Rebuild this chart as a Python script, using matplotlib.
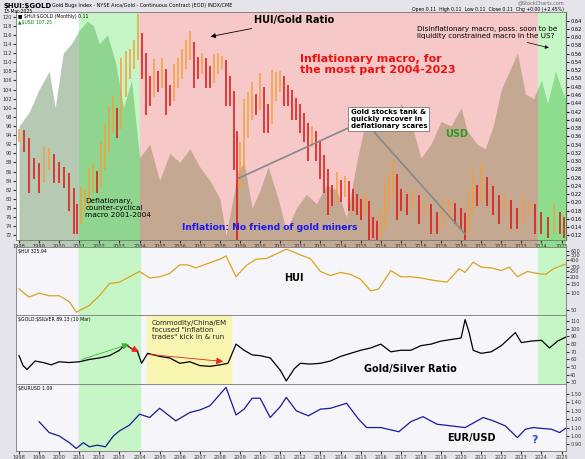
import matplotlib
matplotlib.use("Agg")
import matplotlib.pyplot as plt
from matplotlib.patches import Rectangle
import numpy as np

# ---- data ----
ratio_t = [1998.0,1998.25,1998.5,1998.75,1999.0,1999.25,1999.5,1999.75,2000.0,2000.25,2000.5,2000.75,2000.9,
           2001.1,2001.3,2001.5,2001.7,2001.9,2002.1,2002.3,2002.5,2002.7,2002.9,2003.1,2003.3,2003.5,2003.7,2003.9,
           2004.1,2004.3,2004.5,2004.7,2004.9,2005.1,2005.3,2005.5,2005.7,2005.9,2006.1,2006.3,2006.5,2006.7,2006.9,
           2007.1,2007.3,2007.5,2007.7,2007.9,2008.1,2008.3,2008.5,2008.7,2008.85,2009.0,2009.2,2009.4,2009.6,2009.8,
           2010.0,2010.2,2010.4,2010.6,2010.8,2011.0,2011.2,2011.4,2011.6,2011.8,2012.0,2012.2,2012.4,2012.6,2012.8,
           2013.0,2013.2,2013.4,2013.6,2013.8,2014.0,2014.2,2014.4,2014.6,2014.8,2015.0,2015.2,2015.4,2015.6,2015.8,
           2016.0,2016.2,2016.4,2016.6,2016.8,2017.0,2017.3,2017.6,2017.9,2018.2,2018.5,2018.8,2019.1,2019.4,2019.7,
           2020.0,2020.2,2020.4,2020.6,2020.8,2021.0,2021.3,2021.6,2021.9,2022.2,2022.5,2022.8,2023.1,2023.4,2023.7,
           2024.0,2024.3,2024.6,2024.9,2025.1]
ratio_v = [94,93,88,87,85,88,89,87,86,85,82,78,76,
           79,80,83,85,84,88,92,96,99,97,104,108,110,112,116,
           112,106,104,107,106,108,104,103,106,108,110,112,114,110,109,
           110,108,107,109,110,110,106,104,96,84,88,95,99,102,101,
           104,100,98,103,105,106,104,103,101,100,98,96,93,94,92,
           89,86,82,81,83,82,83,81,80,79,78,79,75,74,73,
           75,79,82,85,81,80,79,80,78,78,76,75,77,78,77,
           76,74,78,82,81,84,82,80,78,79,77,76,78,78,76,
           75,74,76,75,74]
usd_t = [1998.0,1998.5,1999.0,1999.5,1999.8,2000.2,2000.6,2001.0,2001.4,2001.7,2002.0,2002.4,2002.8,2003.2,2003.6,
         2004.0,2004.5,2005.0,2005.5,2006.0,2006.5,2007.0,2007.5,2008.0,2008.3,2008.9,2009.2,2009.6,2010.0,2010.4,
         2010.9,2011.3,2011.8,2012.3,2012.8,2013.3,2013.8,2014.3,2014.8,2015.2,2015.7,2016.2,2016.8,2017.0,2017.5,
         2018.0,2018.5,2019.0,2019.5,2020.0,2020.3,2020.8,2021.2,2021.6,2022.0,2022.4,2022.8,2023.2,2023.6,2024.0,
         2024.3,2024.7,2025.0,2025.2]
usd_v = [96,99,104,108,100,112,114,117,119,118,114,116,110,100,106,
         89,92,84,90,88,91,87,84,80,72,86,88,78,82,87,
         80,73,78,81,79,83,82,76,88,96,100,98,96,101,97,
         89,92,97,96,100,95,92,91,96,104,108,112,103,102,106,
         101,108,104,102]
hui_t = [1998.0,1998.5,1999.0,1999.5,2000.0,2000.5,2000.85,2001.5,2002.0,2002.5,2003.0,2003.5,2004.0,2004.5,2005.0,
         2005.5,2006.0,2006.4,2006.8,2007.3,2008.0,2008.3,2008.8,2009.3,2009.8,2010.3,2010.8,2011.3,2011.7,2012.0,
         2012.5,2013.0,2013.5,2014.0,2014.5,2015.0,2015.5,2015.9,2016.5,2017.0,2017.5,2018.0,2018.7,2019.3,2019.9,
         2020.2,2020.6,2021.0,2021.5,2022.0,2022.4,2022.8,2023.3,2023.8,2024.2,2024.6,2025.0,2025.2]
hui_v = [120,85,100,90,90,70,45,60,90,150,160,200,250,190,200,
         230,330,330,290,340,420,480,200,320,420,430,520,640,560,500,
         430,250,210,240,220,180,110,120,260,200,200,190,170,160,280,
         240,370,300,290,260,300,200,250,230,220,280,320,340]
gsr_t = [1998.0,1998.2,1998.4,1998.8,1999.2,1999.6,2000.0,2000.5,2001.0,2001.5,2002.0,2002.5,2003.0,2003.3,2003.6,
         2003.9,2004.1,2004.4,2005.0,2005.5,2006.0,2006.5,2007.0,2007.5,2008.0,2008.4,2008.8,2009.2,2009.6,2010.0,
         2010.5,2011.0,2011.3,2011.7,2012.0,2012.5,2013.0,2013.5,2014.0,2014.5,2015.0,2015.5,2016.0,2016.5,2017.0,
         2017.5,2018.0,2018.5,2019.0,2019.5,2020.0,2020.2,2020.4,2020.6,2021.0,2021.5,2022.0,2022.7,2023.0,2023.5,
         2024.0,2024.4,2024.8,2025.2]
gsr_v = [65,52,47,58,56,53,57,56,57,60,62,65,72,80,74,
         70,55,68,64,62,55,57,52,51,53,55,80,72,66,65,
         62,46,32,48,55,54,55,58,64,68,72,75,80,70,72,
         72,78,80,84,86,88,112,95,72,68,70,78,95,82,84,
         85,75,84,89]
eur_t = [1999.0,1999.5,2000.0,2000.5,2000.85,2001.2,2001.5,2001.9,2002.3,2002.7,2003.0,2003.5,2004.0,2004.5,2005.0,
         2005.8,2006.5,2007.0,2007.5,2008.3,2008.8,2009.2,2009.6,2010.0,2010.5,2011.0,2011.3,2011.8,2012.4,2013.0,
         2013.5,2014.3,2014.9,2015.3,2016.0,2016.9,2017.5,2018.1,2018.8,2019.5,2020.2,2020.8,2021.1,2021.6,2022.2,
         2022.8,2023.2,2023.6,2024.0,2024.5,2024.9,2025.2]
eur_v = [1.17,1.04,1.00,0.92,0.85,0.92,0.87,0.89,0.87,1.00,1.06,1.13,1.26,1.22,1.33,
         1.18,1.28,1.31,1.36,1.58,1.25,1.32,1.45,1.45,1.22,1.35,1.46,1.30,1.24,1.32,
         1.33,1.39,1.20,1.10,1.10,1.05,1.17,1.23,1.14,1.12,1.10,1.18,1.22,1.18,1.12,
         0.98,1.08,1.10,1.09,1.08,1.04,1.09]
years = list(range(1998, 2026))

# ---- figure ----
W, H = 585, 459
fig = plt.figure(figsize=(W/100, H/100), dpi=100, facecolor="#e4e4ea")
def box(y0, y1):
    return [16/W, 1-y1/H, (566-16)/W, (y1-y0)/H]
ax = fig.add_axes(box(12, 240))
ah = fig.add_axes(box(247, 315), sharex=ax)
ag = fig.add_axes(box(315, 384), sharex=ax)
ae = fig.add_axes(box(384, 451), sharex=ax)
X0, X1 = 1997.85, 2025.22
for a in (ax, ah, ag, ae):
    a.set_facecolor("#f5f5fa")
    a.set_xlim(X0, X1)
    a.tick_params(labelsize=3.6, length=2, pad=1, colors="#333")
    for s in a.spines.values():
        s.set_color("#777"); s.set_linewidth(0.6)
    if a is not ax:
        a.yaxis.tick_right()

# main panel background regions
regions = [(X0, 2001.0, "white", "#b6c9b2"), (2001.0, 2004.0, "#c6f5c6", "#8fd58f"),
           (2004.0, 2023.85, "#f6c8c8", "#c4a892"), (2023.85, X1, "#c6f5c6", "#8edc8e")]
ax.set_ylim(71, 121)
for lo, hi, bg, col in regions:
    ax.axvspan(lo, hi, color=bg, zorder=0)
    f = ax.fill_between(usd_t, 60, usd_v, color=col, zorder=1, lw=0)
    clip = Rectangle((lo, 60), hi-lo, 80, transform=ax.transData)
    f.set_clip_path(clip)
ax.set_yticks(range(72, 121, 2))
sec = ax.secondary_yaxis("right", functions=(lambda L: 0.12 + (L-72)*4.625/419, lambda r: 72 + (r-0.12)*419/4.625))
tk = np.arange(0.12, 0.645, 0.02)
sec.set_yticks(tk)
sec.set_yticklabels([f"{v:.2f}" for v in tk])
sec.tick_params(labelsize=3.6, length=2, pad=1)
# ratio bars
rt = np.array(ratio_t); rv = np.array(ratio_v)
for i in range(len(rt)):
    prev = rv[i-1] if i else rv[i]
    col = "#e01010" if rv[i] < prev else "#f0a040"
    rng = 1.6 + abs(rv[i]-prev)
    ax.vlines(rt[i], rv[i]-rng, rv[i]+rng*0.8, color=col, lw=1.1, zorder=3)
ax.set_xticks(years)
ax.set_xticklabels([str(y) for y in years])

# lower panels green bands
for a in (ah, ag, ae):
    a.axvspan(2001.0, 2004.0, color="#c6f5c6", zorder=0)
for a in (ah, ag):
    a.axvspan(2023.85, X1, color="#c6f5c6", zorder=0)
ag.axvspan(2004.35, 2008.55, color="#f8f5b0", zorder=0)

ah.plot(hui_t, hui_v, color="#d9a520", lw=0.9)
ah.set_yscale("log"); ah.set_ylim(40, 700)
ah.minorticks_off()
ah.set_yticks([50,100,150,200,250,300,400,500,600]); ah.set_yticklabels(["50","100","150","200","250","300","400","500","600"])
ag.plot(gsr_t, gsr_v, color="black", lw=0.9)
ag.set_ylim(28, 118); ag.set_yticks(range(30, 111, 10))
ae.plot(eur_t, eur_v, color="#1a1a9a", lw=0.9)
ae.set_ylim(0.82, 1.62)
et = np.arange(0.9, 1.55, 0.1)
ae.set_yticks(et); ae.set_yticklabels([f"{v:.2f}" for v in et])
for a in (ah, ag):
    a.tick_params(axis="x", labelbottom=False)
ae.set_xticks(years); ae.set_xticklabels([str(y) for y in years])

# header texts
fig.text(3/W, 1-6/H, r"\$HUI:\$GOLD", fontsize=5, weight="bold", va="center")
fig.text(52/W, 1-6/H, "Gold Bugs Index - NYSE Arca/Gold - Continuous Contract (EOD) INDX/CME", fontsize=3.5, va="center")
fig.text(3/W, 1-11.5/H, "13-Mar-2025", fontsize=3.3, va="center")
fig.text(564/W, 1-3/H, "@StockCharts.com", fontsize=3.5, ha="right", va="center", color="#666")
fig.text(564/W, 1-9/H, "Open 0.11  High 0.11  Low 0.11  Close 0.11  Chg +0.00 (+2.45%)", fontsize=3.3, ha="right", va="center")
ax.text(0.003, 0.99, r"■ \$HUI:\$GOLD (Monthly) 0.11", transform=ax.transAxes, fontsize=3.3, va="top", zorder=5)
ax.text(0.003, 0.965, r"▲\$USD 107.25", transform=ax.transAxes, fontsize=3.3, va="top", color="green", zorder=5)

ax.annotate("HUI/Gold Ratio", xy=(2007.4, 115.5), xytext=(2009.7, 119.2), fontsize=7, weight="bold",
            arrowprops=dict(arrowstyle="-|>", color="black", lw=0.6), va="center")
ax.text(2012.0, 109.5, "Inflationary macro, for\nthe most part 2004-2023", color="#ee1111", fontsize=8,
        weight="bold", va="center", linespacing=1.2)
ax.annotate("Disinflationary macro, poss. soon to be\nliquidity constrained macro in the US?", xy=(2024.5, 113.0),
            xytext=(2017.8, 116.5), fontsize=5.2, arrowprops=dict(arrowstyle="-|>", color="black", lw=0.5),
            va="center", linespacing=1.2)
ax.text(2014.5, 97.5, "Gold stocks tank &\nquickly recover in\ndeflationary scares", fontsize=5, weight="bold",
        va="center", bbox=dict(boxstyle="square,pad=0.3", fc="white", ec="#777", lw=0.6), linespacing=1.15, zorder=6)
ax.plot([2014.6, 2008.9], [96.0, 84.5], color="#888", lw=1.2, zorder=5)
ax.plot([2015.5, 2020.2], [95.5, 72.3], color="#888", lw=1.2, zorder=5)
ax.text(2019.2, 94.2, "USD", color="#2a9a2a", fontsize=7, weight="bold", va="center", zorder=6)
ax.text(2001.3, 78.0, "Deflationary,\ncounter-cyclical\nmacro 2001-2004", fontsize=5.3, va="center", linespacing=1.2, zorder=6)
ax.text(2006.1, 73.8, "Inflation: No friend of gold miners", color="#1a1aee", fontsize=6.6, weight="bold", va="center", zorder=6)

ah.text(0.003, 0.97, r"\$HUI 325.94", transform=ah.transAxes, fontsize=3.3, va="top")
ah.text(2011.7, 190, "HUI", fontsize=7, weight="bold", ha="center", va="center")
ag.text(0.003, 0.97, r"\$GOLD:\$SILVER 89.13 (10 Mar)", transform=ag.transAxes, fontsize=3.3, va="top")
ag.text(2004.6, 98, "Commodity/China/EM\nfocused \"Inflation\ntrades\" kick in & run", fontsize=5, va="center",
        linespacing=1.2, color="#222")
ag.annotate("", xy=(2003.6, 81), xytext=(2001.0, 59), arrowprops=dict(arrowstyle="-|>", color="#33bb33", lw=0.6))
ag.annotate("", xy=(2004.1, 69), xytext=(2003.3, 78), arrowprops=dict(arrowstyle="-|>", color="#ee2222", lw=0.6))
ag.annotate("", xy=(2008.3, 57), xytext=(2004.3, 67), arrowprops=dict(arrowstyle="-|>", color="#ee2222", lw=0.6))
ag.text(2019.8, 48, "Gold/Silver Ratio", fontsize=7, weight="bold", ha="right", va="center")
ae.text(0.003, 0.97, r"\$EURUSD 1.09", transform=ae.transAxes, fontsize=3.3, va="top")
ae.text(2019.3, 0.97, "EUR/USD", fontsize=7, weight="bold", va="center")
ae.text(2023.5, 0.95, "?", fontsize=8, weight="bold", color="#2255dd", va="center")

fig.savefig("out.png", dpi=100, facecolor=fig.get_facecolor())
